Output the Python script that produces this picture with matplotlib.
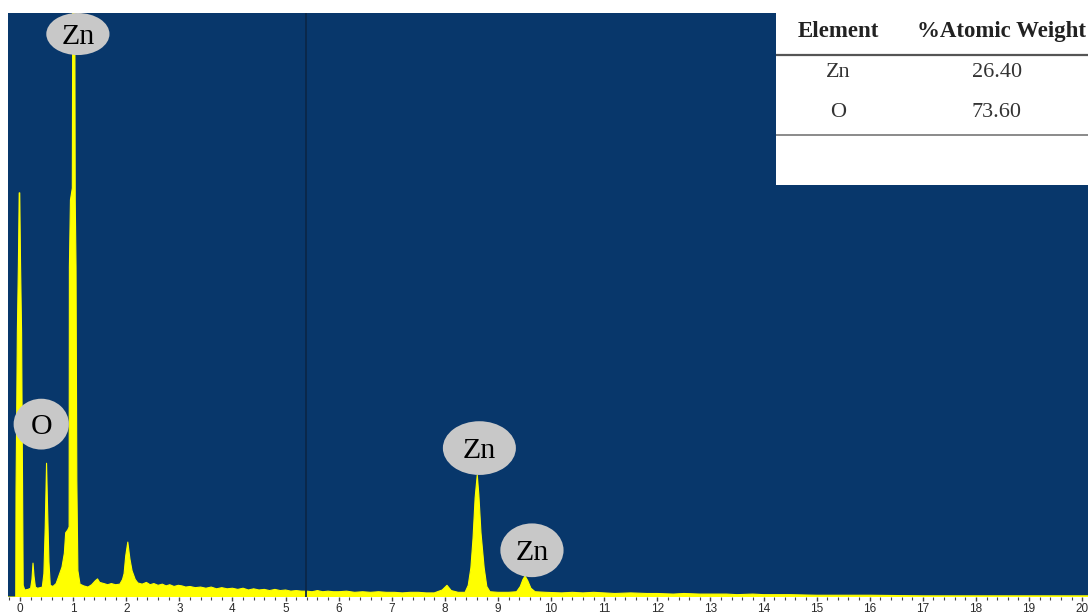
import matplotlib
matplotlib.use("Agg")
import matplotlib.pyplot as plt
from matplotlib.patches import Ellipse
from matplotlib.ticker import MultipleLocator

# EDS spectrum: energy (keV) and counts
energy_kev = [
    -0.23, -0.08, -0.075, -0.05, -0.03, -0.015, -0.005, 0.01, 0.03, 0.05, 0.06,
    0.09, 0.15, 0.20, 0.225, 0.245, 0.265, 0.29, 0.33, 0.38, 0.42, 0.45, 0.475,
    0.50, 0.52, 0.545, 0.57, 0.62, 0.68, 0.72, 0.79, 0.835, 0.86, 0.90, 0.925,
    0.93, 0.95, 0.985, 0.995, 1.03, 1.04, 1.055, 1.07, 1.09, 1.13, 1.20, 1.28,
    1.35, 1.42, 1.46, 1.50, 1.58, 1.65, 1.72, 1.80, 1.88, 1.93, 1.96, 1.99,
    2.03, 2.07, 2.11, 2.17, 2.22, 2.30, 2.38, 2.45, 2.52, 2.60, 2.68, 2.75,
    2.82, 2.90, 2.98, 3.05, 3.12, 3.20, 3.30, 3.40, 3.50, 3.60, 3.70, 3.80,
    3.90, 4.00, 4.10, 4.20, 4.30, 4.40, 4.50, 4.60, 4.70, 4.80, 4.90, 5.00,
    5.10, 5.20, 5.30, 5.40, 5.50, 5.60, 5.70, 5.80, 5.90, 6.00, 6.15, 6.30,
    6.45, 6.60, 6.75, 6.90, 7.05, 7.20, 7.35, 7.50, 7.65, 7.80, 7.95, 8.04,
    8.12, 8.25, 8.38, 8.44, 8.49, 8.53, 8.57, 8.61, 8.64, 8.68, 8.74, 8.79,
    8.85, 9.00, 9.20, 9.35, 9.42, 9.47, 9.51, 9.56, 9.62, 9.70, 9.90, 10.2,
    10.4, 10.6, 10.8, 11.0, 11.2, 11.5, 11.8, 12.0, 12.3, 12.5, 12.8, 13.0,
    13.3, 13.5, 13.8, 14.0, 14.5, 15.0, 15.5, 16.0, 17.0, 18.0, 19.0, 20.2,
]
counts = [
    0, 0, 178, 452, 572, 692, 692, 572, 452, 178, 20,
    12, 13, 15, 30, 58, 35, 17, 15, 16, 17, 40, 120,
    229, 150, 60, 20, 18, 23, 33, 51, 75, 110, 115, 120,
    565, 680, 700, 1100, 1100, 680, 565, 200, 45, 22, 19, 17,
    21, 28, 31, 25, 23, 21, 23, 21, 22, 30, 40, 70,
    94, 65, 45, 30, 24, 22, 25, 21, 23, 20, 22, 19,
    21, 18, 20, 19, 17, 18, 16, 17, 15, 17, 14, 16,
    14, 15, 13, 15, 12, 14, 12, 13, 11, 13, 11, 12,
    10, 11, 10, 10, 9, 11, 9, 10, 9, 9, 10, 8,
    9, 8, 9, 8, 8, 7, 8, 8, 7, 7, 12, 20,
    11, 8, 8, 20, 50, 100, 170, 209, 175, 110, 50, 18,
    9, 8, 8, 9, 18, 30, 36, 28, 15, 9, 8, 7,
    8, 7, 8, 7, 6, 7, 6, 6, 5, 6, 5, 5,
    5, 4, 5, 4, 4, 3, 3, 3, 2, 2, 2, 2,
]

# Peak labels: text, ellipse centre (keV, counts), ellipse size (keV, counts)
peak_labels = ["Zn", "O", "Zn", "Zn"]
label_centers = [(1.09, 964), (0.40, 296), (8.65, 255), (9.64, 80)]
label_sizes = [(1.19, 72), (1.04, 87), (1.375, 92), (1.19, 92)]

# Composition table
table_header = ["Element", "%Atomic Weight"]
table_elements = ["Zn", "O"]
table_values = [26.40, 73.60]

cursor_kev = 5.39
x_ticks = list(range(0, 21))

BG = "#08376b"
YELLOW = "#ffff00"
SERIF = "Liberation Serif"

W, H = 1088, 615
fig = plt.figure(figsize=(W / 100, H / 100), dpi=100)
fig.patch.set_facecolor("white")

ax_left, ax_right, ax_top, ax_bottom = 8, 1088, 13, 597
ax = fig.add_axes([ax_left / W, (H - ax_bottom) / H,
                   (ax_right - ax_left) / W, (ax_bottom - ax_top) / H])
ax.set_facecolor(BG)
ax.set_xlim(-0.226, 20.11)
ax.set_ylim(0, 1000)

ax.fill_between(energy_kev, counts, 0, color=YELLOW, linewidth=0, zorder=2)
ax.plot(energy_kev, counts, color=YELLOW, linewidth=0.8, zorder=2)

ax.axvline(cursor_kev, color="#0b2748", linewidth=1.3, zorder=3)

for text, (cx, cy), (w, h) in zip(peak_labels, label_centers, label_sizes):
    ax.add_patch(Ellipse((cx, cy), w, h, facecolor="#c8c8c8",
                         edgecolor="none", zorder=4))
    ax.text(cx, cy, text, ha="center", va="center_baseline", fontsize=21.5,
            family=SERIF, color="black", zorder=5)

for s in ax.spines.values():
    s.set_visible(False)
ax.set_yticks([])
ax.set_xticks(x_ticks)
ax.set_xticklabels([str(t) for t in x_ticks])
ax.xaxis.set_minor_locator(MultipleLocator(0.2))
ax.tick_params(axis="x", which="major", direction="out", length=3,
               width=1, color="#444444", pad=1, labelsize=8.5,
               labelcolor="#2a2a2a")
ax.tick_params(axis="x", which="minor", direction="out", length=2,
               width=0.8, color="#444444")
for lbl in ax.get_xticklabels():
    lbl.set_family("Liberation Sans")

# Composition table panel
tb_left, tb_top, tb_bottom = 776, 13, 185
tab = fig.add_axes([tb_left / W, (H - tb_bottom) / H,
                    (W - tb_left) / W, (tb_bottom - tb_top) / H])
tab.set_facecolor("white")
tab.set_xlim(0, 1)
tab.set_ylim(0, 1)
tab.set_xticks([])
tab.set_yticks([])
for s in tab.spines.values():
    s.set_visible(False)

tab.text(0.199, 0.89, table_header[0], ha="center", va="center",
         fontsize=16.5, fontweight="bold", family=SERIF, color="#222222")
tab.text(0.452, 0.89, table_header[1], ha="left", va="center",
         fontsize=16.5, fontweight="bold", family=SERIF, color="#222222",
         clip_on=False)
tab.plot([0, 1], [0.756, 0.756], color="#555555", linewidth=1.6)
row_y = [0.652, 0.419]
for el, val, y in zip(table_elements, table_values, row_y):
    tab.text(0.199, y, el, ha="center", va="center", fontsize=16,
             family=SERIF, color="#333333")
    tab.text(0.708, y, f"{val:.2f}", ha="center", va="center", fontsize=16,
             family=SERIF, color="#333333")
tab.plot([0, 1], [0.291, 0.291], color="#777777", linewidth=1.2)

fig.savefig("out.png", dpi=100, facecolor="white")
